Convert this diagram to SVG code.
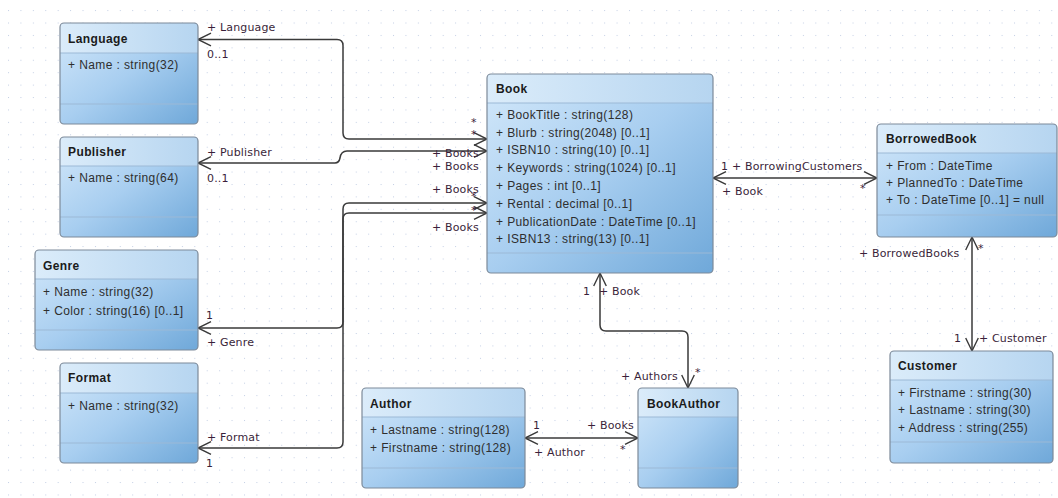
<svg xmlns="http://www.w3.org/2000/svg" width="1058" height="498" viewBox="0 0 1058 498">
<style>
.box{fill:url(#body);stroke:none}
.hdr{fill:url(#head)}
.edge{fill:none;stroke:#7d8a99;stroke-width:1.2}
.sep{stroke:#9cb9d6;stroke-width:1}
.title{font-family:"Liberation Sans",Arial,sans-serif;font-weight:bold;font-size:12px;fill:#1b1b1b;letter-spacing:.4px}
.attr{font-family:"Liberation Sans",Arial,sans-serif;font-size:12px;fill:#2e2e2e;letter-spacing:.4px}
.lbl{font-family:"DejaVu Sans",Verdana,sans-serif;font-size:11px;fill:#3a1f3a;letter-spacing:.15px}
.conn{fill:none;stroke:#3a3a3a;stroke-width:1.5;marker-start:url(#arr);marker-end:url(#arr)}
</style>
<defs>
<pattern id="grid" x="8" y="10.1" width="12.42" height="12.42" patternUnits="userSpaceOnUse">
<rect x="0" y="0" width="1" height="1" fill="#c3cfe4"/>
</pattern>
<linearGradient id="body" x1="0" y1="0" x2="1" y2="1">
<stop offset="0" stop-color="#d3e8fa"/>
<stop offset="0.5" stop-color="#a8cef0"/>
<stop offset="1" stop-color="#6fa8d9"/>
</linearGradient>
<linearGradient id="head" x1="0" y1="0" x2="1" y2="0">
<stop offset="0" stop-color="#dbecfa"/>
<stop offset="1" stop-color="#b6d5f0"/>
</linearGradient>
<marker id="arr" viewBox="-15 -8 17 16" refX="0" refY="0" markerWidth="17" markerHeight="16" markerUnits="userSpaceOnUse" orient="auto-start-reverse" overflow="visible">
<path d="M-13,-6.3 L0,0 L-13,6.3" fill="none" stroke="#3a3a3a" stroke-width="1.4"/>
</marker>
</defs>
<rect width="1058" height="498" fill="#ffffff"/>
<rect width="1058" height="498" fill="url(#grid)"/>

<g id="connectors">
<path class="conn" d="M198,39.5 H337 Q343,39.5 343,45.5 V133 Q343,139 349,139 H487"/>
<path class="conn" d="M198,163 H335 Q339,163 340,158 Q341,151 347,151 H487"/>
<path class="conn" d="M198,328 H337 Q343,328 343,322 V209 Q343,203 349,203 H487"/>
<path class="conn" d="M198,448 H337 Q343,448 343,442 V219 Q343,213 349,213 H487"/>
<path class="conn" d="M713,178 H877"/>
<path class="conn" d="M972,237 V351"/>
<path class="conn" d="M600,273 V325 Q600,331 606,331 H682 Q688,331 688,337 V388"/>
<path class="conn" d="M525,438 H638"/>
<text class="lbl" x="207" y="31">+ Language</text>
<text class="lbl" x="207" y="58">0..1</text>
<text class="lbl" x="207" y="156">+ Publisher</text>
<text class="lbl" x="207" y="182">0..1</text>
<text class="lbl" x="206" y="319">1</text>
<text class="lbl" x="207" y="346">+ Genre</text>
<text class="lbl" x="207" y="441">+ Format</text>
<text class="lbl" x="206" y="467">1</text>
<text class="lbl" x="471" y="126">*</text>
<text class="lbl" x="471" y="138">*</text>
<text class="lbl" x="432" y="157">+ Books</text>
<text class="lbl" x="432" y="170">+ Books</text>
<text class="lbl" x="432" y="193">+ Books</text>
<text class="lbl" x="471" y="200">*</text>
<text class="lbl" x="471" y="214">*</text>
<text class="lbl" x="432" y="231">+ Books</text>
<text class="lbl" x="721" y="170">1</text>
<text class="lbl" x="732" y="170">+ BorrowingCustomers</text>
<text class="lbl" x="722" y="195">+ Book</text>
<text class="lbl" x="860" y="192">*</text>
<text class="lbl" x="859" y="257">+ BorrowedBooks</text>
<text class="lbl" x="978" y="252">*</text>
<text class="lbl" x="954" y="342">1</text>
<text class="lbl" x="979" y="342">+ Customer</text>
<text class="lbl" x="583" y="295">1</text>
<text class="lbl" x="599" y="295">+ Book</text>
<text class="lbl" x="621" y="380">+ Authors</text>
<text class="lbl" x="695" y="376">*</text>
<text class="lbl" x="533" y="429">1</text>
<text class="lbl" x="587" y="429">+ Books</text>
<text class="lbl" x="534" y="456">+ Author</text>
<text class="lbl" x="620" y="453">*</text>
</g>

<g id="Language">
<rect class="box" x="60" y="23" width="138" height="101" rx="4"/>
<path class="hdr" d="M60,53 V27 Q60,23 64,23 H194 Q198,23 198,27 V53 Z"/>
<line class="sep" x1="60" y1="53" x2="198" y2="53"/>
<line class="sep" x1="60" y1="104" x2="198" y2="104"/>
<rect class="edge" x="60" y="23" width="138" height="101" rx="4"/>
<text class="title" x="68" y="43">Language</text>
<text class="attr" x="68" y="69">+ Name : string(32)</text>
</g>

<g id="Publisher">
<rect class="box" x="60" y="137" width="138" height="100" rx="4"/>
<path class="hdr" d="M60,166 V141 Q60,137 64,137 H194 Q198,137 198,141 V166 Z"/>
<line class="sep" x1="60" y1="166" x2="198" y2="166"/>
<line class="sep" x1="60" y1="217" x2="198" y2="217"/>
<rect class="edge" x="60" y="137" width="138" height="100" rx="4"/>
<text class="title" x="68" y="156">Publisher</text>
<text class="attr" x="68" y="182">+ Name : string(64)</text>
</g>

<g id="Genre">
<rect class="box" x="35" y="250" width="163" height="100" rx="4"/>
<path class="hdr" d="M35,279 V254 Q35,250 39,250 H194 Q198,250 198,254 V279 Z"/>
<line class="sep" x1="35" y1="279" x2="198" y2="279"/>
<line class="sep" x1="35" y1="330" x2="198" y2="330"/>
<rect class="edge" x="35" y="250" width="163" height="100" rx="4"/>
<text class="title" x="43" y="270">Genre</text>
<text class="attr" x="43" y="296">+ Name : string(32)</text>
<text class="attr" x="43" y="315">+ Color : string(16) [0..1]</text>
</g>

<g id="Format">
<rect class="box" x="60" y="363" width="138" height="100" rx="4"/>
<path class="hdr" d="M60,393 V367 Q60,363 64,363 H194 Q198,363 198,367 V393 Z"/>
<line class="sep" x1="60" y1="393" x2="198" y2="393"/>
<line class="sep" x1="60" y1="443" x2="198" y2="443"/>
<rect class="edge" x="60" y="363" width="138" height="100" rx="4"/>
<text class="title" x="68" y="382">Format</text>
<text class="attr" x="68" y="410">+ Name : string(32)</text>
</g>

<g id="Book">
<rect class="box" x="487" y="74" width="226" height="199" rx="4"/>
<path class="hdr" d="M487,103 V78 Q487,74 491,74 H709 Q713,74 713,78 V103 Z"/>
<line class="sep" x1="487" y1="103" x2="713" y2="103"/>
<line class="sep" x1="487" y1="253" x2="713" y2="253"/>
<rect class="edge" x="487" y="74" width="226" height="199" rx="4"/>
<text class="title" x="496" y="93">Book</text>
<text class="attr" x="496" y="119">+ BookTitle : string(128)</text>
<text class="attr" x="496" y="137">+ Blurb : string(2048) [0..1]</text>
<text class="attr" x="496" y="154">+ ISBN10 : string(10) [0..1]</text>
<text class="attr" x="496" y="172">+ Keywords : string(1024) [0..1]</text>
<text class="attr" x="496" y="190">+ Pages : int [0..1]</text>
<text class="attr" x="496" y="208">+ Rental : decimal [0..1]</text>
<text class="attr" x="496" y="225.5">+ PublicationDate : DateTime [0..1]</text>
<text class="attr" x="496" y="243">+ ISBN13 : string(13) [0..1]</text>
</g>

<g id="BorrowedBook">
<rect class="box" x="877" y="124" width="180" height="113" rx="4"/>
<path class="hdr" d="M877,153 V128 Q877,124 881,124 H1053 Q1057,124 1057,128 V153 Z"/>
<line class="sep" x1="877" y1="153" x2="1057" y2="153"/>
<line class="sep" x1="877" y1="215" x2="1057" y2="215"/>
<rect class="edge" x="877" y="124" width="180" height="113" rx="4"/>
<text class="title" x="886" y="143">BorrowedBook</text>
<text class="attr" x="886" y="170">+ From : DateTime</text>
<text class="attr" x="886" y="187">+ PlannedTo : DateTime</text>
<text class="attr" x="886" y="204">+ To : DateTime [0..1] = null</text>
</g>

<g id="Customer">
<rect class="box" x="890" y="351" width="163" height="112" rx="4"/>
<path class="hdr" d="M890,380 V355 Q890,351 894,351 H1049 Q1053,351 1053,355 V380 Z"/>
<line class="sep" x1="890" y1="380" x2="1053" y2="380"/>
<line class="sep" x1="890" y1="442" x2="1053" y2="442"/>
<rect class="edge" x="890" y="351" width="163" height="112" rx="4"/>
<text class="title" x="898" y="370">Customer</text>
<text class="attr" x="898" y="397">+ Firstname : string(30)</text>
<text class="attr" x="898" y="414">+ Lastname : string(30)</text>
<text class="attr" x="898" y="431.5">+ Address : string(255)</text>
</g>

<g id="Author">
<rect class="box" x="362" y="388" width="163" height="100" rx="4"/>
<path class="hdr" d="M362,417 V392 Q362,388 366,388 H521 Q525,388 525,392 V417 Z"/>
<line class="sep" x1="362" y1="417" x2="525" y2="417"/>
<line class="sep" x1="362" y1="468" x2="525" y2="468"/>
<rect class="edge" x="362" y="388" width="163" height="100" rx="4"/>
<text class="title" x="370" y="407.5">Author</text>
<text class="attr" x="370" y="434">+ Lastname : string(128)</text>
<text class="attr" x="370" y="451.5">+ Firstname : string(128)</text>
</g>

<g id="BookAuthor">
<rect class="box" x="638" y="388" width="100" height="100" rx="4"/>
<path class="hdr" d="M638,417 V392 Q638,388 642,388 H734 Q738,388 738,392 V417 Z"/>
<line class="sep" x1="638" y1="417" x2="738" y2="417"/>
<line class="sep" x1="638" y1="468" x2="738" y2="468"/>
<rect class="edge" x="638" y="388" width="100" height="100" rx="4"/>
<text class="title" x="647" y="407.5">BookAuthor</text>
</g>
</svg>
